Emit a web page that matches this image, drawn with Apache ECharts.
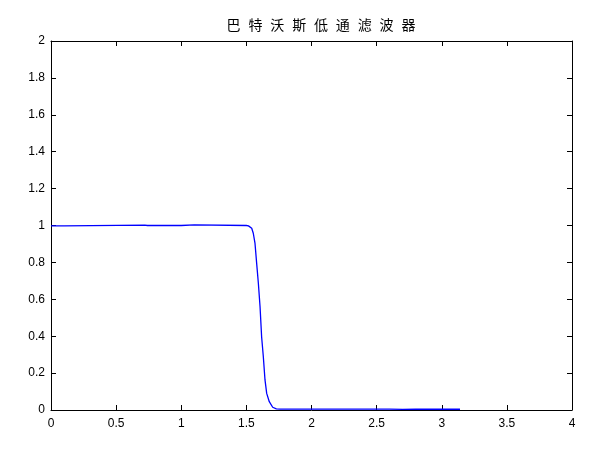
<!DOCTYPE html>
<html>
<head>
<meta charset="utf-8">
<script src="https://cdn.jsdelivr.net/npm/echarts@6/dist/echarts.min.js"></script>
<style>html,body{margin:0;padding:0;background:#fff}#c{width:612px;height:452px}</style>
</head>
<body>
<div id="c"></div>
<script>
const titleText = '巴特沃斯低通滤波器';
const freq = [0, 0.1, 0.11, 0.72, 0.725, 0.735, 0.74, 1.0, 1.005, 1.1, 1.105, 1.5, 1.516, 1.541, 1.553, 1.566, 1.579, 1.592, 1.605, 1.617, 1.63, 1.643, 1.656, 1.676, 1.702, 1.73, 1.76, 2.6, 2.61, 2.7, 2.71, 2.8, 2.81, 3.14];
const magnitude = [0.998, 0.998, 1.002, 1.002, 0.998, 0.998, 1.0, 1.0, 1.003, 1.003, 1.0, 1.0, 0.998, 0.985, 0.958, 0.905, 0.795, 0.687, 0.56, 0.397, 0.29, 0.163, 0.09, 0.045, 0.015, 0.006, 0.005, 0.005, 0.003, 0.003, 0.005, 0.005, 0.003, 0.004];
const xTicks = [0, 0.5, 1, 1.5, 2, 2.5, 3, 3.5, 4];
const yTicks = [0, 0.2, 0.4, 0.6, 0.8, 1, 1.2, 1.4, 1.6, 1.8, 2];

const chart = echarts.init(document.getElementById('c'), null, {renderer: 'canvas'});
const lineStyle = {color: '#000', width: 1};
const labelFont = {color: '#000', fontFamily: 'Liberation Sans, Arial, sans-serif', fontSize: 12};
chart.setOption({
  animation: false,
  backgroundColor: '#fff',
  title: {
    text: titleText.split('').join('\u2002\u200a'), left: 316, top: 13, textAlign: 'center',
    textStyle: {fontFamily: 'Noto Sans CJK SC', fontSize: 14, fontWeight: 'normal', color: '#000'}
  },
  grid: {left: 51, right: 40, top: 41, bottom: 42, containLabel: false},
  xAxis: [
    {type: 'value', min: 0, max: 4, interval: 0.5, position: 'bottom',
     axisLine: {show: true, onZero: false, lineStyle}, axisTick: {show: true, inside: true, length: 5, lineStyle},
     splitLine: {show: false},
     axisLabel: Object.assign({margin: 8, formatter: v => xTicks.includes(v) ? String(v) : ''}, labelFont)},
    {type: 'value', min: 0, max: 4, interval: 0.5, position: 'top',
     axisLine: {show: true, onZero: false, lineStyle}, axisTick: {show: true, inside: true, length: 5, lineStyle},
     splitLine: {show: false}, axisLabel: {show: false}}
  ],
  yAxis: [
    {type: 'value', min: 0, max: 2, interval: 0.2, position: 'left',
     axisLine: {show: true, onZero: false, lineStyle}, axisTick: {show: true, inside: true, length: 5, lineStyle},
     splitLine: {show: false},
     axisLabel: Object.assign({margin: 6, formatter: v => String(Math.round(v * 10) / 10)}, labelFont)},
    {type: 'value', min: 0, max: 2, interval: 0.2, position: 'right',
     axisLine: {show: true, onZero: false, lineStyle}, axisTick: {show: true, inside: true, length: 5, lineStyle},
     splitLine: {show: false}, axisLabel: {show: false}}
  ],
  series: [{
    type: 'line', xAxisIndex: 0, yAxisIndex: 0, showSymbol: false, symbol: 'none',
    lineStyle: {color: '#0000ff', width: 1.3}, clip: true,
    data: freq.map((f, i) => [f, magnitude[i]])
  }]
});
</script>
</body>
</html>
